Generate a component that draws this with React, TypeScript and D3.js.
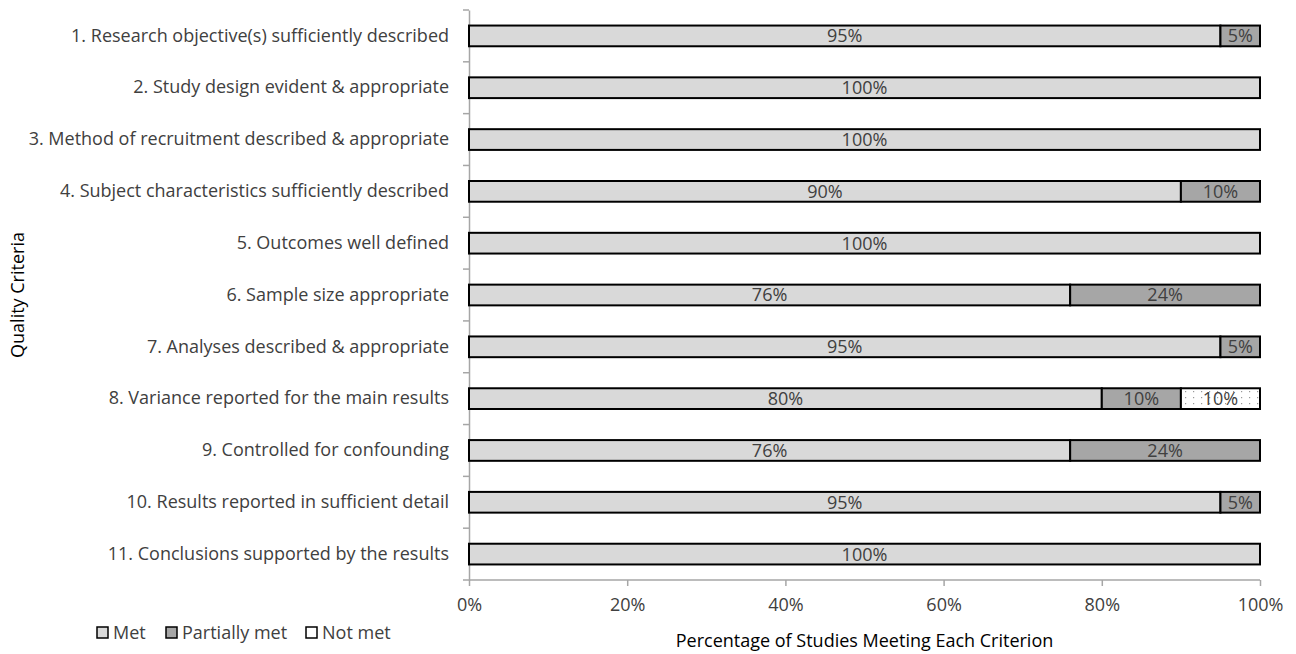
import React, { useEffect, useRef } from "react";
import * as d3 from "d3";

const criteria = [
  "1. Research objective(s) sufficiently described",
  "2. Study design evident & appropriate",
  "3. Method of recruitment described & appropriate",
  "4. Subject characteristics sufficiently described",
  "5. Outcomes well defined",
  "6. Sample size appropriate",
  "7. Analyses described & appropriate",
  "8. Variance reported for the main results",
  "9. Controlled for confounding",
  "10. Results reported in sufficient detail",
  "11. Conclusions supported by the results",
];
const met = [95, 100, 100, 90, 100, 76, 95, 80, 76, 95, 100];
const partiallyMet = [5, 0, 0, 10, 0, 24, 5, 10, 24, 5, 0];
const notMet = [0, 0, 0, 0, 0, 0, 0, 10, 0, 0, 0];
const seriesNames = ["Met", "Partially met", "Not met"];
const xTicks = [0, 20, 40, 60, 80, 100];

const W = 1296;
const H = 654;
const margin = { left: 469, right: 36, top: 10, bottom: 74 };
const textColor = "#404040";
const fontFamily = "'Open Sans', 'DejaVu Sans', sans-serif";

const App = () => {
  const ref = useRef<SVGSVGElement>(null);

  useEffect(() => {
    const svg = d3.select(ref.current);
    svg.selectAll("*").remove();

    // dotted fill for "Not met"
    const pat = svg
      .append("defs")
      .append("pattern")
      .attr("id", "dots")
      .attr("patternUnits", "userSpaceOnUse")
      .attr("width", 8)
      .attr("height", 6);
    pat.append("rect").attr("width", 8).attr("height", 6).attr("fill", "#fff");
    pat.append("rect").attr("x", 1).attr("y", 1).attr("width", 1.2).attr("height", 1.2).attr("fill", "#999");

    const x = d3
      .scaleLinear()
      .domain([0, 100])
      .range([margin.left, W - margin.right]);
    const y = d3
      .scaleBand()
      .domain(criteria)
      .range([margin.top, H - margin.bottom])
      .paddingInner(0.6)
      .paddingOuter(0.3);

    // y axis
    const yAxis = svg
      .append("g")
      .attr("transform", `translate(${margin.left},0)`)
      .call(d3.axisLeft(y).tickSize(0).tickPadding(20));
    yAxis.select(".domain").attr("stroke", "#a6a6a6").attr("stroke-width", 1.5);
    yAxis
      .selectAll("text")
      .attr("fill", textColor)
      .style("font-size", "18px")
      .style("font-family", fontFamily);

    // category boundary ticks
    const bounds = d3.range(criteria.length + 1).map(
      (i) => margin.top + i * ((H - margin.bottom - margin.top) / criteria.length)
    );
    svg
      .append("g")
      .selectAll("line")
      .data(bounds)
      .join("line")
      .attr("x1", margin.left - 6)
      .attr("x2", margin.left)
      .attr("y1", (d) => d)
      .attr("y2", (d) => d)
      .attr("stroke", "#a6a6a6")
      .attr("stroke-width", 1.5);

    // x axis
    const xAxis = svg
      .append("g")
      .attr("transform", `translate(0,${H - margin.bottom})`)
      .call(
        d3
          .axisBottom(x)
          .tickValues(xTicks)
          .tickSize(6)
          .tickPadding(12)
          .tickFormat((d) => `${d}%`)
      );
    xAxis.select(".domain").attr("stroke", "#a6a6a6").attr("stroke-width", 1.5);
    xAxis.selectAll(".tick line").attr("stroke", "#a6a6a6").attr("stroke-width", 1.5);
    xAxis
      .selectAll("text")
      .attr("fill", textColor)
      .style("font-size", "18px")
      .style("font-family", fontFamily);
    xAxis.select(".domain").attr("d", `M${margin.left},0H${W - margin.right}`);

    // bars
    const rows = criteria.map((c, i) => ({
      c,
      segs: [
        { k: 0, x0: 0, v: met[i] },
        { k: 1, x0: met[i], v: partiallyMet[i] },
        { k: 2, x0: met[i] + partiallyMet[i], v: notMet[i] },
      ].filter((s) => s.v > 0),
    }));
    const fills = ["#d9d9d9", "#a6a6a6", "url(#dots)"];
    const bh = y.bandwidth();

    const g = svg.append("g");
    rows.forEach((r) => {
      r.segs.forEach((s) => {
        g.append("rect")
          .attr("x", x(s.x0))
          .attr("y", y(r.c)!)
          .attr("width", x(s.x0 + s.v) - x(s.x0))
          .attr("height", bh)
          .attr("fill", fills[s.k])
          .attr("stroke", "#000")
          .attr("stroke-width", 2);
        g.append("text")
          .attr("x", (x(s.x0) + x(s.x0 + s.v)) / 2)
          .attr("y", y(r.c)! + bh / 2)
          .attr("dy", "0.36em")
          .attr("text-anchor", "middle")
          .attr("fill", textColor)
          .style("font-size", "18px")
          .style("font-family", fontFamily)
          .text(`${s.v}%`);
      });
    });

    // axis titles
    svg
      .append("text")
      .attr("transform", `translate(24,${(margin.top + H - margin.bottom) / 2}) rotate(-90)`)
      .attr("text-anchor", "middle")
      .attr("fill", "#000")
      .style("font-size", "18px")
      .style("font-family", fontFamily)
      .text("Quality Criteria");
    svg
      .append("text")
      .attr("x", (margin.left + W - margin.right) / 2)
      .attr("y", 647)
      .attr("text-anchor", "middle")
      .attr("fill", "#000")
      .style("font-size", "18px")
      .style("font-family", fontFamily)
      .text("Percentage of Studies Meeting Each Criterion");

    // legend
    const legendX = [97, 166, 306];
    const lg = svg.append("g");
    seriesNames.forEach((n, i) => {
      lg.append("rect")
        .attr("x", legendX[i])
        .attr("y", 627)
        .attr("width", 11)
        .attr("height", 11)
        .attr("fill", i === 2 ? "#fff" : fills[i])
        .attr("stroke", "#000")
        .attr("stroke-width", 1.5);
      lg.append("text")
        .attr("x", legendX[i] + 16)
        .attr("y", 633)
        .attr("dy", "0.36em")
        .attr("fill", textColor)
        .style("font-size", "18px")
        .style("font-family", fontFamily)
        .text(n);
    });
  }, []);

  return (
    <svg
      ref={ref}
      width={W}
      height={H}
      style={{ position: "absolute", left: 0, top: 0, background: "#fff" }}
    />
  );
};

export default App;
